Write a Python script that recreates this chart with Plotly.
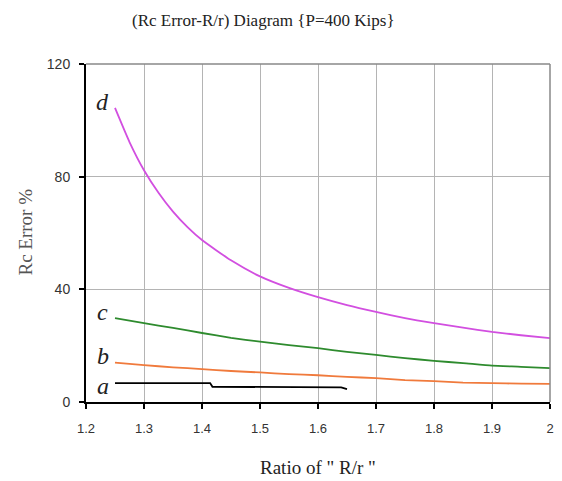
import plotly.graph_objects as go

ratio_d = [1.25, 1.275, 1.30, 1.325, 1.35, 1.375, 1.40, 1.45, 1.50, 1.55, 1.60, 1.65, 1.70, 1.75, 1.80, 1.85, 1.90, 1.95, 2.00]
err_d = [104.4, 92.3, 82.3, 74.3, 67.6, 62.1, 57.5, 50.3, 44.6, 40.5, 37.2, 34.4, 32.0, 29.8, 28.0, 26.4, 24.9, 23.7, 22.7]
ratio = [1.25, 1.30, 1.35, 1.40, 1.45, 1.50, 1.55, 1.60, 1.65, 1.70, 1.75, 1.80, 1.85, 1.90, 1.95, 2.00]
err_c = [29.8, 28.0, 26.3, 24.5, 22.8, 21.4, 20.2, 19.1, 17.8, 16.7, 15.6, 14.6, 13.8, 12.9, 12.5, 12.0]
err_b = [14.0, 13.1, 12.3, 11.7, 11.0, 10.5, 9.9, 9.5, 8.9, 8.5, 7.8, 7.4, 6.9, 6.7, 6.5, 6.4]
ratio_a = [1.25, 1.30, 1.35, 1.40, 1.414, 1.418, 1.45, 1.50, 1.55, 1.60, 1.64, 1.65]
err_a = [6.7, 6.7, 6.7, 6.7, 6.7, 5.4, 5.4, 5.4, 5.3, 5.3, 5.2, 4.6]

series = [
    ("d", ratio_d, err_d, "#d24fe0", 106.5, "spline"),
    ("c", ratio, err_c, "#2e8b2e", 32.0, "spline"),
    ("b", ratio, err_b, "#f07a3c", 16.5, "spline"),
    ("a", ratio_a, err_a, "#000000", 5.8, "linear"),
]

fig = go.Figure()
for name, xs, ys, col, ly, shp in series:
    line = dict(color=col, width=1.8, shape=shp)
    if shp == "spline":
        line["smoothing"] = 0.5
    fig.add_trace(go.Scatter(x=xs, y=ys, mode="lines", name=name, line=line,
                             showlegend=False))
    fig.add_annotation(x=1.229, y=ly, text=f"<i>{name}</i>", showarrow=False,
                       font=dict(family="Liberation Serif", size=24, color="#222"),
                       xanchor="center", yanchor="middle")

fig.update_layout(
    width=562, height=481,
    margin=dict(l=86, r=8, t=64, b=79),
    paper_bgcolor="white", plot_bgcolor="white",
    xaxis=dict(range=[1.2, 2.0], dtick=0.1, tick0=1.2, showgrid=True, gridcolor="#b4b4b4",
               gridwidth=1, showline=True, linecolor="#000", linewidth=2, mirror=False,
               ticks="outside", ticklen=5, tickcolor="#000", tickwidth=1.5,
               ticklabelstandoff=8,
               tickfont=dict(family="Liberation Sans", size=13, color="#333"),
               zeroline=False),
    yaxis=dict(range=[0, 120], dtick=40, showgrid=True, gridcolor="#b4b4b4", gridwidth=1,
               showline=True, linecolor="#000", linewidth=2,
               ticks="outside", ticklen=5, tickcolor="#000", tickwidth=1.5,
               ticklabelstandoff=6,
               tickfont=dict(family="Liberation Sans", size=14, color="#333"),
               zeroline=False),
)
# titles as paper annotations
fig.add_annotation(xref="paper", yref="paper", x=(265 - 86) / 468, y=1 + (64 - 21) / 338,
                   text="(Rc Error-R/r) Diagram {P=400 Kips}", showarrow=False,
                   xanchor="center", yanchor="middle",
                   font=dict(family="Liberation Serif", size=17, color="#222"))
fig.add_annotation(xref="paper", yref="paper", x=(320 - 86) / 468, y=-(467 - 402) / 338,
                   text='Ratio of " R/r "', showarrow=False,
                   xanchor="center", yanchor="middle",
                   font=dict(family="Liberation Serif", size=19, color="#222"))
fig.add_annotation(xref="paper", yref="paper", x=-(86 - 24) / 468, y=(402 - 232) / 338,
                   text="Rc Error %", showarrow=False, textangle=-90,
                   xanchor="center", yanchor="middle",
                   font=dict(family="Liberation Serif", size=19, color="#555"))
# top and right gray border
fig.add_shape(type="line", xref="paper", yref="paper", x0=0, x1=1, y0=1, y1=1,
              line=dict(color="#888", width=1.5))
fig.add_shape(type="line", xref="paper", yref="paper", x0=1, x1=1, y0=0, y1=1,
              line=dict(color="#888", width=1.5))

fig.write_html("out.html")
